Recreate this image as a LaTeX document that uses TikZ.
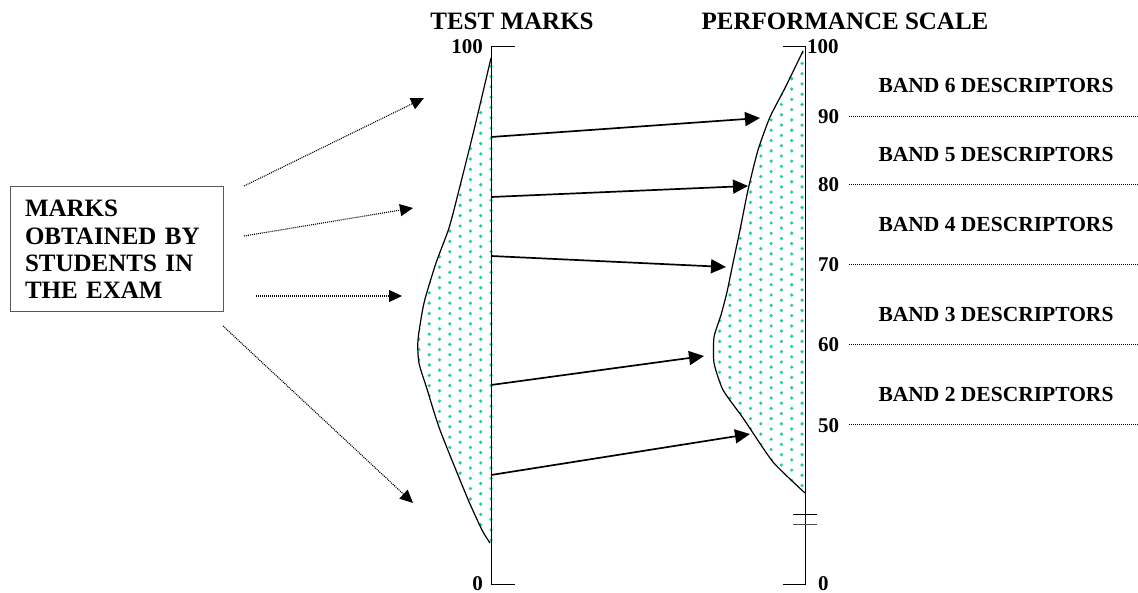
\documentclass[tikz,border=0pt]{standalone}
\usepackage{fontspec}
\setmainfont{Liberation Serif}
\usetikzlibrary{arrows.meta}
\definecolor{dotc}{RGB}{30,210,160}
\tikzset{
  axisline/.style={line width=1pt, black},
  curveline/.style={line width=1.2pt, black},
  solidarrow/.style={line width=1.7pt, -{Triangle[length=15pt,width=14pt]}},
  dotarrow/.style={line width=1.1pt, dash pattern=on 1pt off 1pt, -{Triangle[length=13pt,width=12pt]}},
  guide/.style={line width=1pt, dash pattern=on 1pt off 1pt, black},
  title/.style={font=\bfseries\fontsize{25}{28}\selectfont, inner sep=0pt, anchor=base},
  num/.style={font=\bfseries\fontsize{21}{24}\selectfont, inner sep=0pt},
  band/.style={font=\bfseries\fontsize{21.5}{24}\selectfont, inner sep=0pt, anchor=base},
  box/.style={draw=black!65, line width=1pt, font=\bfseries\fontsize{25}{27.4}\selectfont,
    text width=183pt, align=left, inner xsep=15pt, inner ysep=0pt, minimum height=125pt},
}
\begin{document}
\begin{tikzpicture}[x=1pt, y=-1pt]
\useasboundingbox (0,0) rectangle (1138,593);

% ---------- dotted fill of test marks ----------
\begin{scope}
  \clip plot[smooth, tension=0.4] coordinates {(491,58) (474,130) (459,190) (449,228) (436,263) (424,303) (418,340) (419,363) (427,389) (440,430) (467,497) (482,530) (490,543)} -- (494,543) -- (494,58) -- cycle;
  \foreach \i in {0,...,8} {
    \foreach \j in {0,...,48} {
      \fill[dotc] ({491-10.3*\i}, {56+10.3*\j+5.15*mod(\i,2)}) circle (1.8pt);
    }
  }
\end{scope}
% ---------- dotted fill of performance scale ----------
\begin{scope}
  \clip plot[smooth, tension=0.35] coordinates {(803,51) (785,88) (770,117) (758,150) (748,190) (740,230) (733,263) (727,292) (721,315) (714,337) (714,363) (723,390) (743,418) (773,462) (805,493)} -- (805,51) -- cycle;
  \foreach \i in {0,...,9} {
    \foreach \j in {0,...,45} {
      \fill[dotc] ({802-10.3*\i}, {53+10.3*\j+5.15*mod(\i,2)}) circle (1.8pt);
    }
  }
\end{scope}

% ---------- curves ----------
\draw[curveline] plot[smooth, tension=0.4] coordinates {(491,58) (474,130) (459,190) (449,228) (436,263) (424,303) (418,340) (419,363) (427,389) (440,430) (467,497) (482,530) (490,543)};
\draw[curveline] plot[smooth, tension=0.35] coordinates {(803,51) (785,88) (770,117) (758,150) (748,190) (740,230) (733,263) (727,292) (721,315) (714,337) (714,363) (723,390) (743,418) (773,462) (805,493)};

% ---------- axes ----------
\coordinate (la-top) at (491,47);
\coordinate (la-bot) at (491,584);
\coordinate (ra-top) at (805,47);
\coordinate (ra-bot) at (805,584);
\draw[axisline] (515,47) -- (la-top) -- (la-bot) -- (515,584);
\draw[axisline] (783,47) -- (ra-top) -- (ra-bot) -- (783,584);
\draw[axisline] (793,514) -- (817,514);
\draw[axisline, black!70] (793,524) -- (817,524);

% ---------- titles ----------
\node[title] (t-test) at (512,30) {TEST MARKS};
\node[title] (t-perf) at (845,30) {PERFORMANCE SCALE};

% ---------- axis numbers ----------
\node[num, anchor=base east] (l100) at (483,54) {100};
\node[num, anchor=base east] (l0) at (483,590) {0};
\node[num, anchor=base west] (r100) at (807,54) {100};
\node[num, anchor=base west] (r0) at (818,590) {0};
\node[num, anchor=base west] (r90) at (818,124) {90};
\node[num, anchor=base west] (r80) at (818,192) {80};
\node[num, anchor=base west] (r70) at (818,272) {70};
\node[num, anchor=base west] (r60) at (818,352) {60};
\node[num, anchor=base west] (r50) at (818,432) {50};

% ---------- band guide lines ----------
\coordinate (g90) at (849,117);
\coordinate (g80) at (849,185);
\coordinate (g70) at (849,265);
\coordinate (g60) at (849,345);
\coordinate (g50) at (849,425);
\coordinate (e90) at (1138,117);
\coordinate (e80) at (1138,185);
\coordinate (e70) at (1138,265);
\coordinate (e60) at (1138,345);
\coordinate (e50) at (1138,425);
\draw[guide] (g90) -- (e90);
\draw[guide] (g80) -- (e80);
\draw[guide] (g70) -- (e70);
\draw[guide] (g60) -- (e60);
\draw[guide] (g50) -- (e50);

% ---------- band labels ----------
\node[band] (b6) at (996,93) {BAND 6 DESCRIPTORS};
\node[band] (b5) at (996,162) {BAND 5 DESCRIPTORS};
\node[band] (b4) at (996,232) {BAND 4 DESCRIPTORS};
\node[band] (b3) at (996,322) {BAND 3 DESCRIPTORS};
\node[band] (b2) at (996,402) {BAND 2 DESCRIPTORS};

% ---------- source box ----------
\node[box] (marks) at (116.5,249.5) {MARKS\\OBTAINED BY\\STUDENTS IN\\THE EXAM};

% ---------- dotted arrows ----------
\coordinate (d1s) at (244,186);
\coordinate (d1t) at (424,98);
\coordinate (d2s) at (244,236);
\coordinate (d2t) at (413,208);
\coordinate (d3s) at (256,296);
\coordinate (d3t) at (402,296);
\coordinate (d4s) at (223,326);
\coordinate (d4t) at (413,503);
\draw[dotarrow] (d1s) -- (d1t);
\draw[dotarrow] (d2s) -- (d2t);
\draw[dotarrow] (d3s) -- (d3t);
\draw[dotarrow] (d4s) -- (d4t);

% ---------- solid arrows ----------
\coordinate (s1) at (491,137);
\coordinate (s2) at (491,197);
\coordinate (s3) at (491,256);
\coordinate (s4) at (491,385);
\coordinate (s5) at (491,475);
\coordinate (a1) at (760,118);
\coordinate (a2) at (748,186);
\coordinate (a3) at (726,267);
\coordinate (a4) at (704,356);
\coordinate (a5) at (750,434);
\draw[solidarrow] (s1) -- (a1);
\draw[solidarrow] (s2) -- (a2);
\draw[solidarrow] (s3) -- (a3);
\draw[solidarrow] (s4) -- (a4);
\draw[solidarrow] (s5) -- (a5);
\end{tikzpicture}
\end{document}
